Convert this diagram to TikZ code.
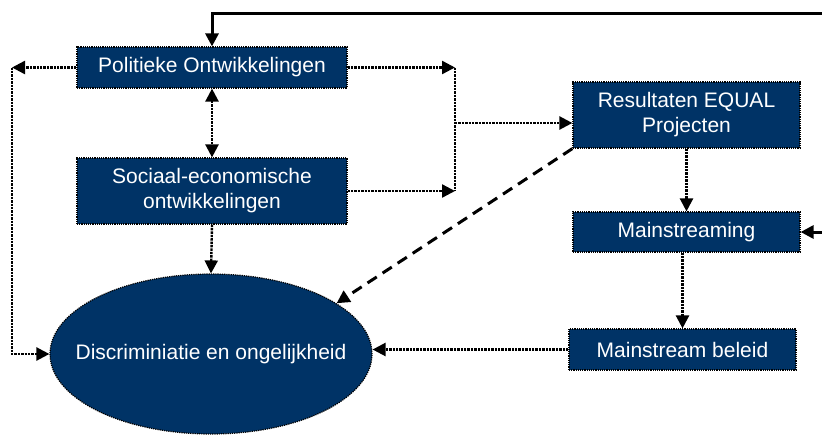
\documentclass[tikz,border=0pt]{standalone}
\usepackage{fontspec}
\setmainfont{Liberation Sans}
\usetikzlibrary{arrows.meta,shapes.geometric}
\definecolor{navy}{RGB}{0,51,102}
\begin{document}
\begin{tikzpicture}[x=1pt,y=-1pt,
  box/.style={draw=black, densely dotted, line width=1.2pt, fill=navy, text=white,
    font=\fontsize{21}{25}\selectfont, align=center, inner sep=0pt},
  dotline/.style={densely dotted, line width=2.4pt},
  tip/.style={-{Triangle[length=13pt,width=13pt]}},
  tips/.style={{Triangle[length=13pt,width=13pt]}-{Triangle[length=13pt,width=13pt]}}
]
\useasboundingbox (0,0) rectangle (822,434);
\node[box, minimum width=270pt, minimum height=41pt] (pol) at (212,67.5) {Politieke Ontwikkelingen};
\node[box, minimum width=270pt, minimum height=66pt] (soc) at (212,191) {Sociaal-economische\\ontwikkelingen};
\node[box, minimum width=227pt, minimum height=66pt] (res) at (686.5,115) {Resultaten EQUAL\\Projecten};
\node[box, minimum width=227pt, minimum height=40pt] (mstr) at (686.5,232) {Mainstreaming};
\node[box, minimum width=227pt, minimum height=41pt] (mb) at (682.5,349.5) {Mainstream beleid};
\node[box, ellipse, minimum width=322pt, minimum height=160pt] (ell) at (211,354) {\raisebox{4pt}{\makebox[0pt]{Discriminiatie en ongelijkheid}}};

\coordinate (topR) at (822,13);
\coordinate (midR) at (822,232);
\coordinate (L) at (12,67.5);
\coordinate (R1) at (455,67.5);
\coordinate (R2) at (455,191);
\coordinate (Rm) at (455,123);

\draw[line width=3pt, tip] (topR) -| (pol.north);
\draw[line width=3pt, tip] (midR) -- (mstr.east);
\draw[dotline, tip] (pol.west) -- (L);
\draw[dotline, tip] (L) |- (ell.west);
\draw[dotline, tip] (pol.east) -- (R1);
\draw[dotline, tip] (soc.east) -- (R2);
\draw[dotline] (R1) -- (R2);
\draw[dotline, tip] (Rm) -- (Rm -| res.west);
\draw[dotline, tips] (pol.south) -- (soc.north);
\draw[dotline, tip] (soc.south) -- (ell.north);
\draw[dotline, tip] (res.south) -- (mstr.north);
\draw[dotline, tip] (mstr.south -| mb.north) -- (mb.north);
\draw[dotline, tip] (mb.west) -- (mb.west -| ell.east);
\draw[line width=3pt, dash pattern=on 11pt off 7pt, tip] (res.south west) -- (ell.22);
\end{tikzpicture}
\end{document}
